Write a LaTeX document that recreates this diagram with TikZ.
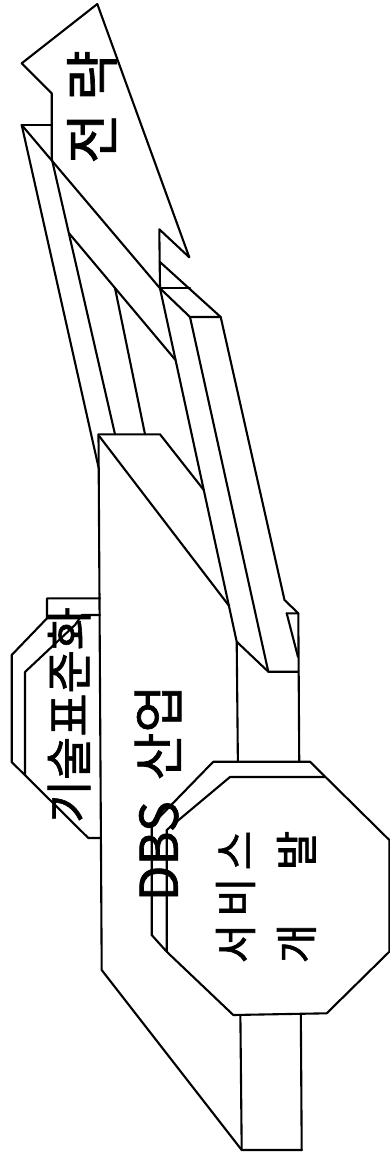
\documentclass[tikz,border=0pt]{standalone}
\usepackage{fontspec}
\newfontfamily\kr[BoldFont={Noto Sans CJK KR},BoldFeatures={FakeBold=1.3}]{Noto Sans CJK KR}
\usetikzlibrary{calc}
\begin{document}
\begin{tikzpicture}[x=1pt,y=-1pt,
  ln/.style={line width=2.1pt, line join=round, line cap=round},
  txt/.style={inner sep=0pt, rotate=90, align=center}]
\useasboundingbox (0,0) rectangle (390,1157);
% ---- arrow (strategy)
\coordinate (a1) at (21.7,63.3);
\coordinate (a2) at (97.3,4);
\coordinate (a3) at (189.3,257.3);
\coordinate (a4) at (159.3,229.3);
\coordinate (a5) at (51.7,93.3);
\coordinate (a5b) at (51.7,158.5);
% ---- bar tops
\coordinate (b1) at (21.7,125);
\coordinate (b2) at (51.7,125);
\coordinate (t0) at (159.6,261.7);
\coordinate (t1) at (160,288.3);
\coordinate (t2) at (190,288.3);
\coordinate (t3) at (190,317);
\coordinate (t4) at (220.7,317);
% ---- box
\coordinate (k1) at (98.5,434.3);
\coordinate (k2) at (160,434.3);
\coordinate (k3) at (101.7,970);
\coordinate (l2e) at (115,434.3);
\coordinate (l3e) at (145,434.3);
\coordinate (l1e) at (98.7,468);
% ---- column
\coordinate (c1) at (236.7,641.7);
\coordinate (c2) at (268.3,671.7);
\coordinate (c3) at (298.3,671.7);
\coordinate (c4) at (284.5,600);
\coordinate (c5) at (298.3,613.3);
\coordinate (c6) at (286.7,613.3);
\coordinate (c7) at (298,657);
\coordinate (cb1) at (241.7,1150);
\coordinate (cb2) at (301.7,1150);
\coordinate (d4a) at (203.8,490);
\coordinate (d4b) at (229.2,606);

% arrow outline
\draw[ln] (a5b) -- (a5) -- (a1) -- (a2) -- (a3) -- (a4) -- (t1);
% bars
\draw[ln] (b1) -- (b2);
\draw[ln] (b1) -- (t1);
\draw[ln] (t0) -- (t4);
\draw[ln] (t1) -- (t2);
\draw[ln] (t1) -- (t3) -- (t4);
\draw[ln] (b1) -- (l1e);
\draw[ln] (a5b) -- (l2e);
\coordinate (d2s) at ($(a5b)!0.27!(l2e)$);
\coordinate (d2e) at (175.5,360);
\draw[ln] (d2s) -- (d2e);
\coordinate (l3s) at ($(d2s)!0.433!(d2e)$);
\draw[ln] (l3s) -- (l3e);
\draw[ln] (t1) -- (c1) -- (cb1);
\draw[ln] (t3) -- (c2);
\draw[ln] (t4) -- (c4) -- (c5);
\draw[ln] (c6) -- (c5) -- (cb2);
\draw[ln] (c6) -- (c7);
\draw[ln] (c1) -- (c2) -- (c3);
% box
\draw[ln] (d4a) -- (k2) -- (k1) -- (k3) -- (cb1) -- (cb2);
\draw[ln] (99.5,436.5) -- (d4b);

% tab (standardization)
\draw[ln] (100,598.3) -- (47,598.3) -- (47,618.3) -- (11.7,655) -- (11.7,762) -- (88.3,838) -- (100,838);
\draw[ln] (100,615) -- (82,615) -- (75,625) -- (25,672) -- (25,775);

% octagon (service development)
\coordinate (o1) at (213.3,761.7);
\coordinate (o2) at (310,761.7);
\coordinate (o3) at (389.3,840);
\coordinate (o4) at (389.3,951.7);
\coordinate (o5) at (326.7,1013.3);
\coordinate (o6) at (233.3,1015);
\coordinate (o7) at (166.7,951.7);
\coordinate (o8) at (151.7,935);
\coordinate (o9) at (151.7,825);
\coordinate (f1) at (230,777);
\coordinate (f2) at (325,777);
\coordinate (f3) at (166.7,830);
\fill[white] (o1) -- (o2) -- (o3) -- (o4) -- (o5) -- (o6) -- (o7) -- (o8) -- (o9) -- cycle;
\draw[ln] (f3) -- (o7) -- (o6) -- (o5) -- (o4) -- (o3) -- (o2) -- (o1) -- (o9) -- (o8) -- (o7);
\draw[ln] (f3) -- (f1) -- (f2);

% texts
\node[txt, font=\kr\bfseries\fontsize{55}{55}\selectfont] (strat) at (92,107) {전 략};
\node[txt, font=\kr\bfseries\fontsize{52}{52}\selectfont] (dbs) at (158,793) {DBS\hspace{0.4em}산업};
\node[txt, font=\kr\bfseries\fontsize{47}{47}\selectfont] (std) at (69,715) {기술표준화};
\node[txt, font=\kr\bfseries\fontsize{43}{61}\selectfont] (svc) at (266,897) {서\hspace{7pt}비\hspace{7pt}스\\개\hspace{7pt}\phantom{비}\hspace{7pt}발};
\end{tikzpicture}
\end{document}
